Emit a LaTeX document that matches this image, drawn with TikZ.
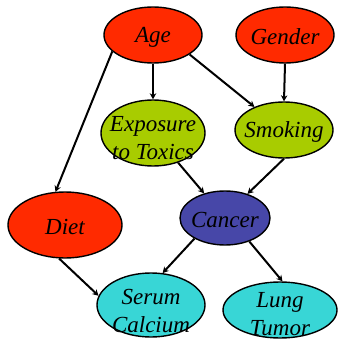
\documentclass[tikz,border=0pt]{standalone}
\usepackage{fontspec}
\setmainfont{Liberation Serif}
\usetikzlibrary{shapes.geometric,arrows.meta}
\definecolor{rootred}{HTML}{FF2A00}
\definecolor{midgreen}{HTML}{A8CC00}
\definecolor{hubblue}{HTML}{4747A8}
\definecolor{leafcyan}{HTML}{38D6D6}
\tikzset{
  var/.style={ellipse, draw=black, line width=1.4pt, inner sep=0pt},
  vartext/.style={font=\fontsize{23}{28}\selectfont\itshape, align=center, inner sep=0pt},
  edge/.style={line width=2pt, -{Stealth[length=6pt,width=6.5pt]}}
}
\begin{document}
\begin{tikzpicture}[x=1pt, y=-1pt]
\useasboundingbox (0,0) rectangle (337,339);

% variables
\node[var, fill=rootred,  minimum width=98pt,  minimum height=56pt] (age)    at (153,35)  {};
\node[var, fill=rootred,  minimum width=98pt,  minimum height=56pt] (gender) at (285,35)  {};
\node[var, fill=midgreen, minimum width=104pt, minimum height=66pt] (expo)   at (153,133) {};
\node[var, fill=midgreen, minimum width=98pt,  minimum height=56pt] (smoke)  at (284,130) {};
\node[var, fill=rootred,  minimum width=114pt, minimum height=66pt] (diet)   at (65,225)  {};
\node[var, fill=hubblue,  minimum width=90pt,  minimum height=54pt] (cancer) at (225,218) {};
\node[var, fill=leafcyan, minimum width=108pt, minimum height=64pt] (serum)  at (151,305) {};
\node[var, fill=leafcyan, minimum width=114pt, minimum height=56pt] (lung)   at (280,310) {};

% labels
\node[vartext] at (153,37)  {Age};
\node[vartext] at (285,37)  {Gender};
\node[vartext] at (153,138) {Exposure\\to Toxics};
\node[vartext] at (284,132) {Smoking};
\node[vartext] at (65,227)  {Diet};
\node[vartext] at (225,220) {Cancer};
\node[vartext] at (151,311) {Serum\\Calcium};
\node[vartext] at (280,314) {Lung\\Tumor};

% dependencies
\draw[edge] (age.202) -- (diet.106);
\draw[edge] (age.south) -- (expo.north);
\draw[edge] (age.-28) -- (smoke.142);
\draw[edge] (gender.south) -- (smoke.north);
\draw[edge] (expo) -- (cancer);
\draw[edge] (smoke.south) -- (cancer.47);
\draw[edge] (diet.-100) -- (serum.170);
\draw[edge] (cancer.214) -- (serum.70);
\draw[edge] (cancer.-44) -- (lung.85);
\end{tikzpicture}
\end{document}
